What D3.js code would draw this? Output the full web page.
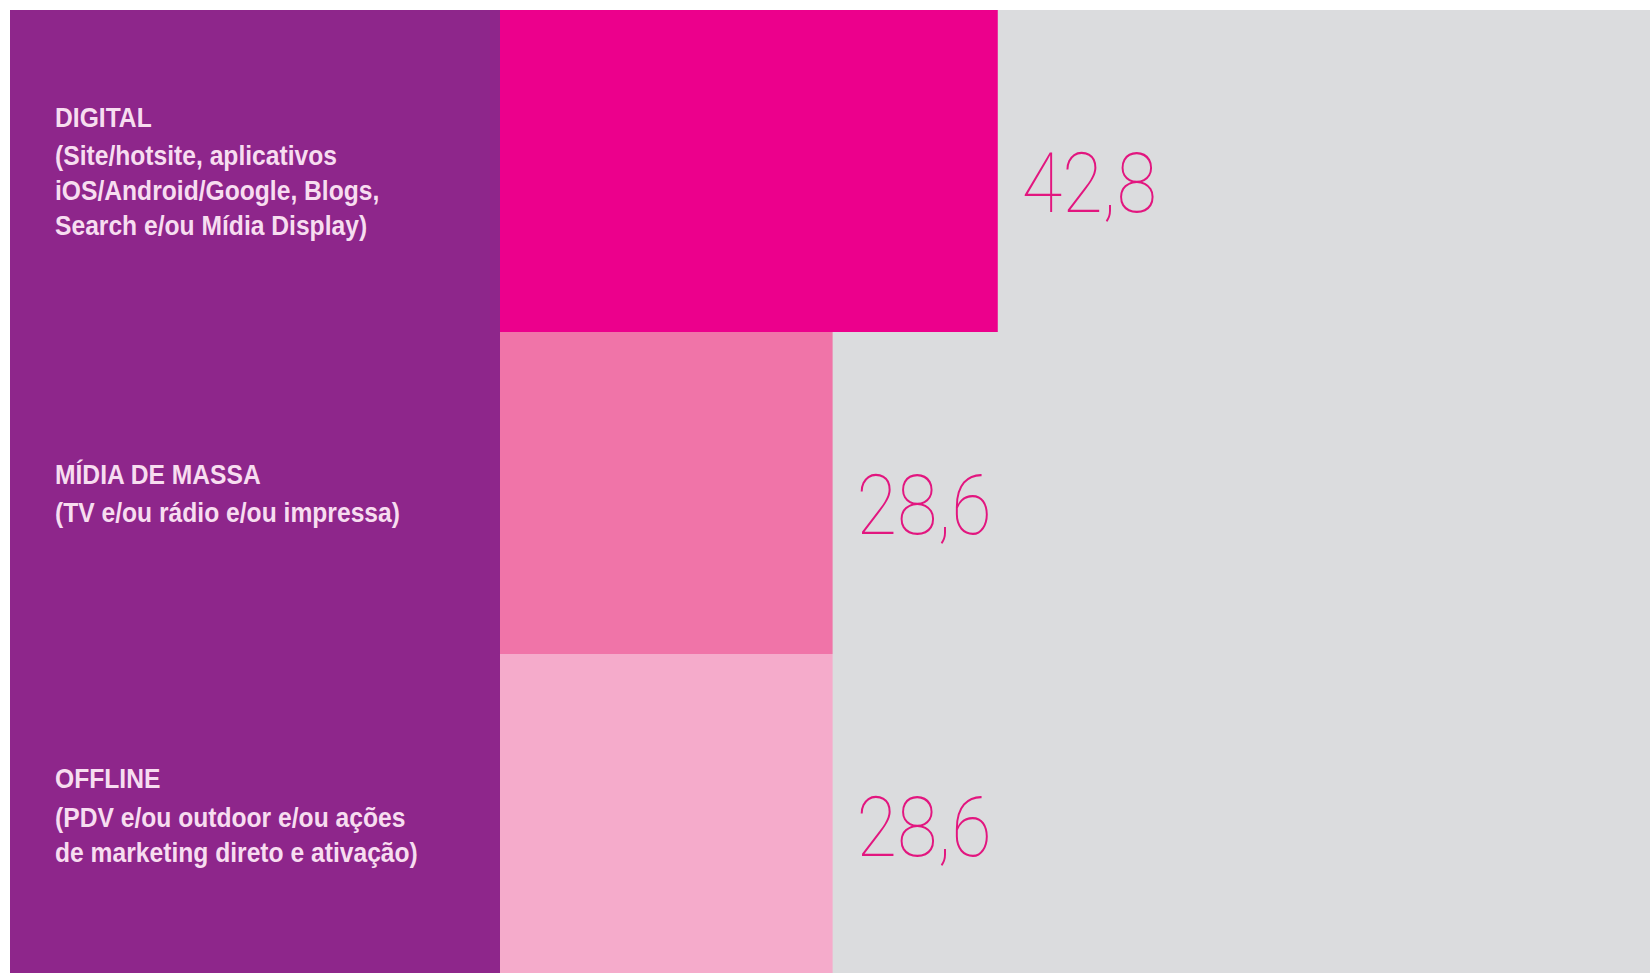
<!DOCTYPE html>
<html>
<head>
<meta charset="utf-8">
<script src="https://cdn.jsdelivr.net/npm/d3@7"></script>
<style>
  html, body { margin: 0; padding: 0; background: #fff; }
</style>
</head>
<body>
<div id="chart"></div>
<script>
const categories = ['DIGITAL', 'MÍDIA DE MASSA', 'OFFLINE'];
const subtitles = [
  ['(Site/hotsite, aplicativos', 'iOS/Android/Google, Blogs,', 'Search e/ou Mídia Display)'],
  ['(TV e/ou rádio e/ou impressa)'],
  ['(PDV e/ou outdoor e/ou ações', 'de marketing direto e ativação)']
];
const values = [42.8, 28.6, 28.6];
const barColors = ['#EC008C', '#F074A8', '#F5ABCB'];

const width = 1650, height = 973;
const margin = { top: 10, left: 10 };
const panelRight = 500;

const svg = d3.select('#chart')
  .append('svg')
  .attr('width', width)
  .attr('height', height);

const y = d3.scaleBand()
  .domain(categories)
  .range([margin.top, 976])
  .padding(0);

const x = d3.scaleLinear()
  .domain([0, 100])
  .range([panelRight, 1663]);

// grey background behind the bars
svg.append('rect')
  .attr('x', panelRight)
  .attr('y', margin.top)
  .attr('width', width - panelRight)
  .attr('height', height - margin.top)
  .attr('fill', '#DBDCDE');

// purple label panel
svg.append('rect')
  .attr('x', margin.left)
  .attr('y', margin.top)
  .attr('width', panelRight - margin.left)
  .attr('height', height - margin.top)
  .attr('fill', '#8E268B');

svg.selectAll('rect.bar')
  .data(values)
  .join('rect')
  .attr('class', 'bar')
  .attr('x', x(0))
  .attr('y', (d, i) => y(categories[i]))
  .attr('width', d => x(d) - x(0))
  .attr('height', y.bandwidth())
  .attr('fill', (d, i) => barColors[i]);

// value labels, thin pink numbers
const fmt = d => d3.format('.1f')(d).replace('.', ',');
svg.selectAll('text.value')
  .data(values)
  .join('text')
  .attr('class', 'value')
  .attr('transform', (d, i) =>
    `translate(${x(d) + 24}, ${y(categories[i]) + y.bandwidth() / 2 + 41}) scale(0.89, 1)`)
  .attr('font-family', 'Roboto, Lato, sans-serif')
  .attr('font-weight', 100)
  .attr('font-size', 83)
  .attr('fill', '#E2167F')
  .text(fmt);

// category labels in the purple panel
const lineH = 35, titleGap = 4;
const labels = svg.selectAll('g.label')
  .data(categories)
  .join('g')
  .attr('class', 'label')
  .attr('transform', (d, i) => {
    const n = subtitles[i].length + 1;
    const b1 = y(d) + y.bandwidth() / 2 + 10 - ((n - 1) * lineH + titleGap) / 2;
    return `translate(55, ${b1}) scale(0.865, 1)`;
  });

labels.selectAll('text')
  .data((d, i) => [d].concat(subtitles[i]))
  .join('text')
  .attr('x', 0)
  .attr('y', (d, j) => j * lineH + (j > 0 ? titleGap : 0))
  .attr('font-family', '"Liberation Sans", Arial, sans-serif')
  .attr('font-weight', 'bold')
  .attr('font-size', 28.5)
  .attr('fill', '#F7DDF0')
  .text(d => d);
</script>
</body>
</html>
